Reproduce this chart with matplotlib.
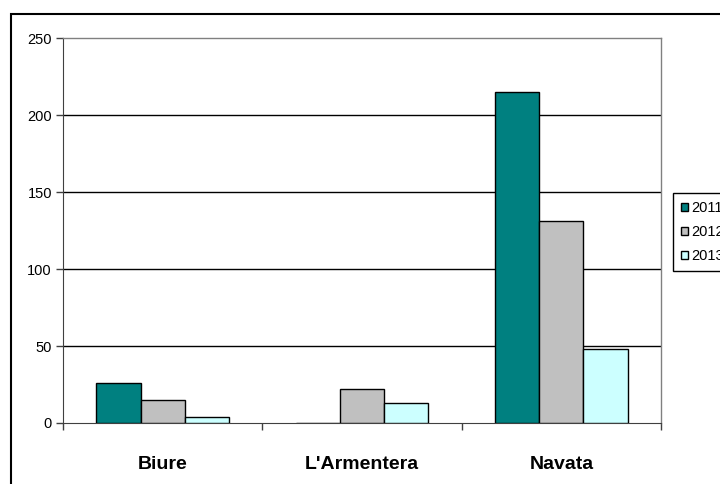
import numpy as np
import matplotlib
matplotlib.use("Agg")
import matplotlib.pyplot as plt
from matplotlib.patches import Rectangle

plt.rcParams['font.family'] = ['Liberation Sans', 'DejaVu Sans']

# dati
categorie = ["Biure", "L'Armentera", "Navata"]
anni = ["2011", "2012", "2013"]
v2011 = [26, 0, 215]
v2012 = [15, 22, 131]
v2013 = [4, 13, 48]
colori = ["#008080", "#C0C0C0", "#CCFFFF"]

fig = plt.figure(figsize=(7.2, 4.84), dpi=100)
ax = fig.add_axes([63 / 720, 1 - 423 / 484, (661 - 63) / 720, (423 - 38) / 484])

x = np.arange(len(categorie))
w = 1 / 4.5
for i, (serie, col, lab) in enumerate(zip([v2011, v2012, v2013], colori, anni)):
    ax.bar(x + (i - 1) * w, serie, width=w, color=col, edgecolor="black",
           linewidth=1.0, label=lab, zorder=3)

ax.set_xlim(-0.5, 2.5)
ax.set_ylim(0, 250)
ax.set_yticks(np.arange(0, 251, 50))
for yv in [50, 100, 150, 200]:
    ax.axhline(yv, color="black", lw=1.0, zorder=1)

ax.set_xticks(x)
ax.set_xticklabels(categorie, fontsize=14, fontweight="bold")
ax.tick_params(axis="x", which="major", length=0, pad=24)
ax.set_xticks([-0.5, 0.5, 1.5, 2.5], minor=True)
ax.tick_params(axis="x", which="minor", length=5, width=1, color="#404040")
ax.tick_params(axis="y", length=5, width=1, color="#404040", labelsize=10.5, pad=3)

for s in ["top", "right"]:
    ax.spines[s].set_color("#808080")
    ax.spines[s].set_linewidth(1.0)
ax.spines["left"].set_color("#404040")
ax.spines["bottom"].set_color("#404040")

# la legenda esce dal bordo destro come nell'originale
leg = ax.legend(loc="upper left", bbox_to_anchor=(673 / 720, 1 - 193 / 484),
                bbox_transform=fig.transFigure, fontsize=10.5, frameon=True,
                fancybox=False, framealpha=1, edgecolor="black",
                handlelength=0.5, handleheight=0.5, handletextpad=0.2,
                labelspacing=0.68, borderpad=0.55, borderaxespad=0)
leg.get_frame().set_linewidth(1.0)

# bordo esterno del grafico
fig.patches.append(Rectangle((11 / 720, -0.1), 2, 0.1 + 1 - 14 / 484,
                             transform=fig.transFigure, fill=False,
                             edgecolor="black", linewidth=1.5))

fig.savefig("out.png", dpi=100)
